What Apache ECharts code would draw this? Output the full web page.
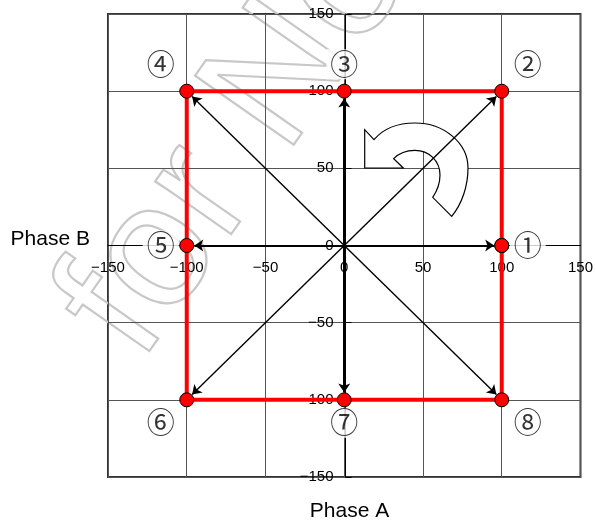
<!DOCTYPE html>
<html>
<head>
<meta charset="utf-8">
<script src="https://cdn.jsdelivr.net/npm/echarts@6/dist/echarts.min.js"></script>
<style>
  html, body { margin: 0; padding: 0; background: #fff; }
  #phaseChart { width: 596px; height: 523px; }
</style>
</head>
<body>
<div id="phaseChart"></div>
<script>
// 8 steps of the phase vector, step number / Phase A (x) / Phase B (y)
const stepLabels = ["①", "②", "③", "④", "⑤", "⑥", "⑦", "⑧"];
const phaseA = [100, 100, 0, -100, -100, -100, 0, 100];
const phaseB = [0, 100, 100, 100, 0, -100, -100, -100];
// axis ticks
const axisTicks = [-150, -100, -50, 0, 50, 100, 150];

const labelFont = "'Liberation Sans', Arial, sans-serif";
const circleFont = "'Noto Sans CJK JP', 'DejaVu Sans', sans-serif";

const chartDom = document.getElementById("phaseChart");
let myChart = echarts.init(chartDom);

// grid box
const gridPos = { left: 108, right: 13, top: 14, bottom: 46 };
const gridW = chartDom.clientWidth - gridPos.left - gridPos.right;
const gridH = chartDom.clientHeight - gridPos.top - gridPos.bottom;
const axisMin = axisTicks[0];
const axisMax = axisTicks[axisTicks.length - 1];
const zeroFrac = (0 - axisMin) / (axisMax - axisMin);

const points = phaseA.map((x, i) => [x, phaseB[i]]);
const squarePath = points.concat([points[0]]);

// arrows from origin, stopped at the edge of the marker
const arrowData = points.map(p => {
  const len = Math.sqrt(p[0] * p[0] + p[1] * p[1]);
  const back = 4.8;
  const onAxis = p[0] === 0 || p[1] === 0;
  return {
    coords: [[0, 0], [p[0] - (p[0] / len) * back, p[1] - (p[1] / len) * back]],
    lineStyle: { width: onAxis ? 2 : 1.4 }
  };
});

const labelData = points.map((p, i) => {
  const sx = Math.sign(p[0]);
  const sy = Math.sign(p[1]);
  return {
    value: p,
    name: stepLabels[i],
    label: { offset: [sx * 26, sy > 0 ? -27 : sy < 0 ? 23 : 0] }
  };
});

const minusFmt = v => String(v).replace("-", "\u2212");

// curved "counter-clockwise" arrow (pixels)
const curvedArrow =
  "M364.7,129.7 L364.7,168 L403.3,168 L393.7,158.7 " +
  "C399,153 407,150.3 415,150.3 " +
  "C429,150.3 440,161 440,175 " +
  "C440,184 437,191 432.7,197.3 " +
  "L451.7,216.3 " +
  "C462,204 468,186 468,168 " +
  "C468,143 444,123 415,123 " +
  "C398,123 383,129 374,139.7 Z";

myChart.setOption({
  animation: false,
  backgroundColor: "#fff",
  grid: {
    left: gridPos.left,
    right: gridPos.right,
    top: gridPos.top,
    bottom: gridPos.bottom,
    show: true,
    borderColor: "#333",
    borderWidth: 2
  },
  graphic: [
    {
      type: "text",
      x: 101,
      y: 336,
      rotation: (55 * Math.PI) / 180,
      z: 0,
      silent: true,
      style: {
        text: "for No",
        font: "175px 'Liberation Sans', Arial, sans-serif",
        fill: "rgba(255,255,255,0)",
        stroke: "#c8c8c8",
        lineWidth: 2.2,
        align: "left",
        verticalAlign: "middle"
      }
    }
  ],
  xAxis: {
    type: "value",
    min: axisMin,
    max: axisMax,
    interval: axisTicks[1] - axisTicks[0],
    position: "bottom",
    offset: -gridH * zeroFrac,
    axisLine: { onZero: false, lineStyle: { color: "#000", width: 1 } },
    axisTick: { show: false },
    splitLine: { lineStyle: { color: "#555", width: 1 } },
    axisLabel: {
      color: "#000",
      fontSize: 15,
      fontFamily: labelFont,
      margin: 15,
      formatter: minusFmt
    },
    name: "Phase B",
    nameLocation: "start",
    nameGap: 18,
    nameTextStyle: {
      color: "#000",
      fontSize: 21,
      fontFamily: labelFont,
      verticalAlign: "bottom",
      lineHeight: 12
    }
  },
  yAxis: {
    type: "value",
    min: axisMin,
    max: axisMax,
    interval: axisTicks[1] - axisTicks[0],
    position: "left",
    offset: -gridW * zeroFrac,
    axisLine: { onZero: false, lineStyle: { color: "#000", width: 1 } },
    axisTick: { show: true, inside: true, length: 6, lineStyle: { color: "#000" } },
    splitLine: { lineStyle: { color: "#555", width: 1 } },
    axisLabel: {
      color: "#000",
      fontSize: 15,
      fontFamily: labelFont,
      margin: 12,
      formatter: minusFmt
    },
    name: "Phase A",
    nameLocation: "start",
    nameGap: 24,
    nameTextStyle: {
      color: "#000",
      fontSize: 21,
      fontFamily: labelFont,
      padding: [0, 0, 0, 8]
    }
  },
  series: [
    {
      // step numbers
      type: "scatter",
      z: 1,
      symbolSize: 0.1,
      itemStyle: { color: "rgba(0,0,0,0)" },
      label: {
        show: true,
        position: "inside",
        formatter: "{b}",
        color: "#000",
        fontSize: 28,
        fontFamily: circleFont,
        backgroundColor: "#fff",
        padding: [1, 4]
      },
      data: labelData
    },
    {
      // rotation direction arrow
      type: "custom",
      z: 1,
      silent: true,
      data: [0],
      renderItem: function() {
        return {
          type: "path",
          shape: { pathData: curvedArrow },
          style: { fill: "#fff", stroke: "#000", lineWidth: 1.2 }
        };
      }
    },
    {
      type: "lines",
      coordinateSystem: "cartesian2d",
      z: 2,
      symbol: ["none", "arrow"],
      symbolSize: 9,
      lineStyle: { color: "#000", width: 1.5, opacity: 1 },
      data: arrowData
    },
    {
      type: "line",
      z: 3,
      data: squarePath,
      symbol: "circle",
      symbolSize: 14,
      lineStyle: { color: "#ff0000", width: 4 },
      itemStyle: { color: "#ff0000", borderColor: "#000", borderWidth: 1 }
    }
  ]
});
</script>
</body>
</html>
